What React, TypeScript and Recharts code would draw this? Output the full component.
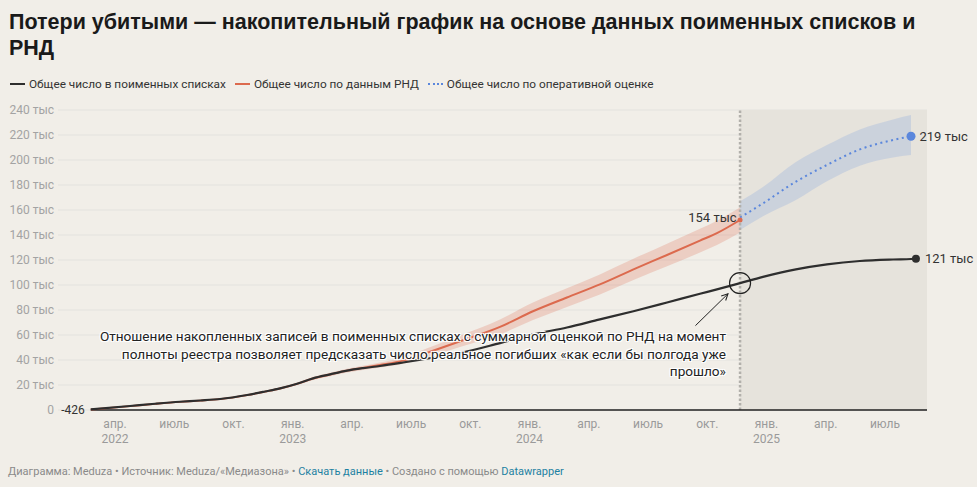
import React from "react";
import {
  ComposedChart,
  Line,
  Area,
  XAxis,
  YAxis,
  CartesianGrid,
  ReferenceArea,
  ReferenceLine,
  ReferenceDot,
} from "recharts";

// time in months since 1 Jan 2022 (fractional), values in thousands
const months = [
  1.77, 3.76, 5.03, 6.29, 7.31, 8.32, 9.69, 10.6, 11.36, 12.22, 13.03, 13.89,
  14.75, 15.56, 16.42, 17.59, 18.75, 20.47, 22.5, 24.17, 25.89, 27.56, 29.26,
  30.96, 32.63, 33.49, 34.66, 35.82, 37.49, 39.06, 40.73, 42.41, 43.32, 43.57,
];

const namedLists = [
  0.426, 3.2, 5.0, 6.6, 7.6, 8.8, 12.0, 14.8, 17.3, 21.0, 25.3, 28.5, 31.5,
  33.5, 35.2, 38.0, 41.0, 45.5, 53.5, 60.5, 66.0, 72.5, 79.0, 86.0, 93.0, 96.5,
  101.5, 106.5, 112.5, 116.5, 119.2, 120.4, 120.8, 121.0,
];

const rndEstimate = [
  0.4, 3.1, 4.9, 6.5, 7.5, 8.7, 11.9, 14.7, 17.2, 20.9, 25.2, 28.4, 31.5, 33.7,
  36.0, 39.5, 45.5, 55.0, 66.5, 79.0, 90.0, 100.5, 112.5, 124.0, 135.5, 141.5,
  152.0, null, null, null, null, null, null, null,
];
const rndLow = [
  0.2, 2.7, 4.4, 6.0, 7.0, 8.2, 11.3, 14.0, 16.4, 20.0, 24.0, 27.0, 30.0, 32.0,
  34.0, 37.0, 42.0, 50.5, 60.5, 72.0, 82.5, 92.5, 104.0, 115.0, 126.0, 132.0,
  142.0, null, null, null, null, null, null, null,
];
const rndHigh = [
  0.6, 3.5, 5.4, 7.0, 8.0, 9.2, 12.5, 15.4, 18.0, 21.8, 26.4, 29.8, 33.0, 35.4,
  38.0, 42.0, 49.0, 59.5, 72.5, 86.0, 97.5, 108.5, 121.0, 133.0, 145.0, 151.5,
  162.0, null, null, null, null, null, null, null,
];

const forecast = [
  null, null, null, null, null, null, null, null, null, null, null, null, null,
  null, null, null, null, null, null, null, null, null, null, null, null, null,
  154.0, 165.3, 182.7, 196.0, 208.5, 216.0, 219.0, null,
];
const forecastLow = [
  null, null, null, null, null, null, null, null, null, null, null, null, null,
  null, null, null, null, null, null, null, null, null, null, null, null, null,
  144.0, 155.0, 168.0, 183.0, 195.5, 202.0, 204.0, null,
];
const forecastHigh = [
  null, null, null, null, null, null, null, null, null, null, null, null, null,
  null, null, null, null, null, null, null, null, null, null, null, null, null,
  167.0, 178.5, 198.5, 212.0, 224.5, 232.5, 236.0, null,
];

const yTicks = [0, 20, 40, 60, 80, 100, 120, 140, 160, 180, 200, 220, 240];
const xTicks = [3, 6, 9, 12, 15, 18, 21, 24, 27, 30, 33, 36, 39, 42];
const xTickMonths = [
  "апр.", "июль", "окт.", "янв.", "апр.", "июль", "окт.",
  "янв.", "апр.", "июль", "окт.", "янв.", "апр.", "июль",
];
const xTickYears = ["2022", "", "", "2023", "", "", "", "2024", "", "", "", "2025", "", ""];

const xDomain: [number, number] = [0.11, 44.13];

const FONT = "Roboto, sans-serif";
const BG = "#f1eee8";
const BLACK = "#2e2e2e";
const RED = "#dc6a4e";
const BLUE = "#5b87dc";

const cutIdx = 26; // last point of the RND series
const cutoff = months[cutIdx];
const lastNamed = namedLists.length - 1;
const lastForecast = 32;

const chartData = months.map((t, i) => ({
  t,
  named: namedLists[i],
  rnd: rndEstimate[i],
  rndRange: rndLow[i] == null ? null : [rndLow[i], rndHigh[i]],
  forecast: forecast[i],
  forecastRange: forecastLow[i] == null ? null : [forecastLow[i], forecastHigh[i]],
}));

function MonthTick({ x, y, payload }: any) {
  const i = xTicks.indexOf(payload.value);
  return (
    <g>
      <text x={x} y={y + 18} textAnchor="middle" fontSize={12} fill="#9a9a9a" fontFamily={FONT}>
        {xTickMonths[i]}
      </text>
      {xTickYears[i] ? (
        <text x={x} y={y + 33} textAnchor="middle" fontSize={12} fill="#9a9a9a" fontFamily={FONT}>
          {xTickYears[i]}
        </text>
      ) : null}
    </g>
  );
}

function LegendItem({ color, dotted, label }: { color: string; dotted?: boolean; label: string }) {
  return (
    <div style={{ display: "flex", alignItems: "center", marginRight: 9 }}>
      <span
        style={{
          display: "inline-block",
          width: 15,
          height: 0,
          borderTop: dotted ? `2px dotted ${color}` : `2.5px solid ${color}`,
          marginRight: 4,
        }}
      />
      <span>{label}</span>
    </div>
  );
}

const halo =
  "-1px -1px 0 #fff, 1px -1px 0 #fff, -1px 1px 0 #fff, 1px 1px 0 #fff, 0 0 3px #fff";

export default function App() {
  return (
    <div
      style={{
        position: "relative",
        width: 977,
        height: 487,
        background: BG,
        fontFamily: FONT,
        color: "#333",
        overflow: "hidden",
      }}
    >
      <style>{`body{margin:0;background:${BG};}`}</style>
      <div
        style={{
          position: "absolute",
          left: 9,
          top: 9,
          fontFamily: "'Liberation Sans', Arial, sans-serif",
          fontSize: 21.5,
          fontWeight: 700,
          lineHeight: "26px",
          color: "#1a1a1a",
          whiteSpace: "nowrap",
        }}
      >
        Потери убитыми — накопительный график на основе данных поименных списков и
        <br />
        РНД
      </div>

      <div
        style={{
          position: "absolute",
          left: 10,
          top: 77,
          display: "flex",
          fontSize: 11.8,
          lineHeight: "14px",
          color: "#333",
        }}
      >
        <LegendItem color={BLACK} label="Общее число в поименных списках" />
        <LegendItem color={RED} label="Общее число по данным РНД" />
        <LegendItem color={BLUE} dotted label="Общее число по оперативной оценке" />
      </div>

      <div style={{ position: "absolute", left: 0, top: 0 }}>
        <ComposedChart
          width={977}
          height={487}
          data={chartData}
          margin={{ top: 110, right: 50, bottom: 47, left: 0 }}
        >
          <defs>
            <marker
              id="arrowHead"
              viewBox="0 0 10 10"
              refX="9"
              refY="5"
              markerWidth="8"
              markerHeight="8"
              orient="auto"
            >
              <path d="M1,1 L9,5 L1,9" fill="none" stroke="#222" strokeWidth={1.3} />
            </marker>
          </defs>
          <ReferenceArea
            x1={cutoff}
            x2={xDomain[1]}
            y1={0}
            y2={240}
            fill="#e6e3dc"
            fillOpacity={1}
            stroke="none"
          />
          <CartesianGrid vertical={false} stroke="#e3e2de" />
          <XAxis
            type="number"
            dataKey="t"
            domain={xDomain}
            ticks={xTicks}
            tick={<MonthTick />}
            tickLine={false}
            axisLine={false}
            tickSize={0}
            tickMargin={0}
            height={30}
            allowDataOverflow
          />
          <YAxis
            domain={[0, 240]}
            ticks={yTicks}
            width={58}
            tickSize={0}
            tickMargin={4}
            axisLine={false}
            tickLine={false}
            tick={{ fontSize: 12, fill: "#a3a3a3", fontFamily: FONT }}
            tickFormatter={(v) => (v === 0 ? "0" : `${v} тыс`)}
          />
          <ReferenceLine
            x={cutoff}
            stroke="#b2b0ab"
            strokeWidth={2.5}
            strokeDasharray="2.5 2"
          />
          <ReferenceLine
            segment={[
              { x: months[0], y: 0 },
              { x: xDomain[1], y: 0 },
            ]}
            stroke="#222"
            strokeWidth={1.5}
          />
          <Area
            type="monotone"
            dataKey="rndRange"
            stroke="none"
            fill={RED}
            fillOpacity={0.24}
            dot={false}
            activeDot={false}
            isAnimationActive={false}
          />
          <Area
            type="monotone"
            dataKey="forecastRange"
            stroke="none"
            fill="#6e96e1"
            fillOpacity={0.22}
            dot={false}
            activeDot={false}
            isAnimationActive={false}
          />
          <Line
            type="monotone"
            dataKey="rnd"
            stroke={RED}
            strokeWidth={2}
            dot={false}
            activeDot={false}
            isAnimationActive={false}
          />
          <Line
            type="monotone"
            dataKey="named"
            stroke={BLACK}
            strokeWidth={2.2}
            dot={false}
            activeDot={false}
            isAnimationActive={false}
          />
          <Line
            type="monotone"
            dataKey="forecast"
            stroke={BLUE}
            strokeWidth={2}
            strokeDasharray="2 3.5"
            dot={false}
            activeDot={false}
            isAnimationActive={false}
          />
          <ReferenceLine
            segment={[
              { x: 32.4, y: 67.5 },
              { x: 34.05, y: 93 },
            ]}
            stroke="#222"
            strokeWidth={1}
            markerEnd="url(#arrowHead)"
          />
          <ReferenceDot
            x={cutoff}
            y={namedLists[cutIdx]}
            r={10.5}
            fill="none"
            stroke="#222"
            strokeWidth={1.2}
          />
          <ReferenceDot
            x={months[0]}
            y={namedLists[0]}
            r={0}
            stroke="none"
            label={{ value: "-426", position: "left", offset: 6, fill: "#333", fontSize: 12, fontFamily: FONT }}
          />
          <ReferenceDot
            x={cutoff}
            y={rndEstimate[cutIdx] as number}
            r={2.5}
            fill={RED}
            stroke="none"
            label={{ value: "154 тыс", position: "left", offset: 1, fill: "#333", fontSize: 13, fontFamily: FONT, dy: -3 }}
          />
          <ReferenceDot
            x={months[lastForecast]}
            y={forecast[lastForecast] as number}
            r={4.5}
            fill={BLUE}
            stroke="none"
            label={{ value: "219 тыс", position: "right", offset: 4, fill: "#333", fontSize: 13, fontFamily: FONT }}
          />
          <ReferenceDot
            x={months[lastNamed]}
            y={namedLists[lastNamed]}
            r={4}
            fill={BLACK}
            stroke="none"
            label={{ value: "121 тыс", position: "right", offset: 5, fill: "#333", fontSize: 13, fontFamily: FONT }}
          />
        </ComposedChart>
      </div>

      <div
        style={{
          position: "absolute",
          right: 977 - 726,
          top: 328,
          width: 660,
          textAlign: "right",
          fontSize: 13.6,
          lineHeight: "17.5px",
          color: "#222",
          textShadow: halo,
        }}
      >
        Отношение накопленных записей в поименных списках с суммарной оценкой по РНД на момент
        <br />
        полноты реестра позволяет предсказать число реальное погибших «как если бы полгода уже
        <br />
        прошло»
      </div>

      <div
        style={{
          position: "absolute",
          left: 8,
          top: 465,
          fontSize: 11,
          lineHeight: "14px",
          color: "#8a8a8a",
        }}
      >
        Диаграмма: Meduza • Источник: Meduza/«Медиазона» •{" "}
        <span style={{ color: "#1d81a2" }}>Скачать данные</span> • Создано с помощью{" "}
        <span style={{ color: "#1d81a2" }}>Datawrapper</span>
      </div>
    </div>
  );
}
